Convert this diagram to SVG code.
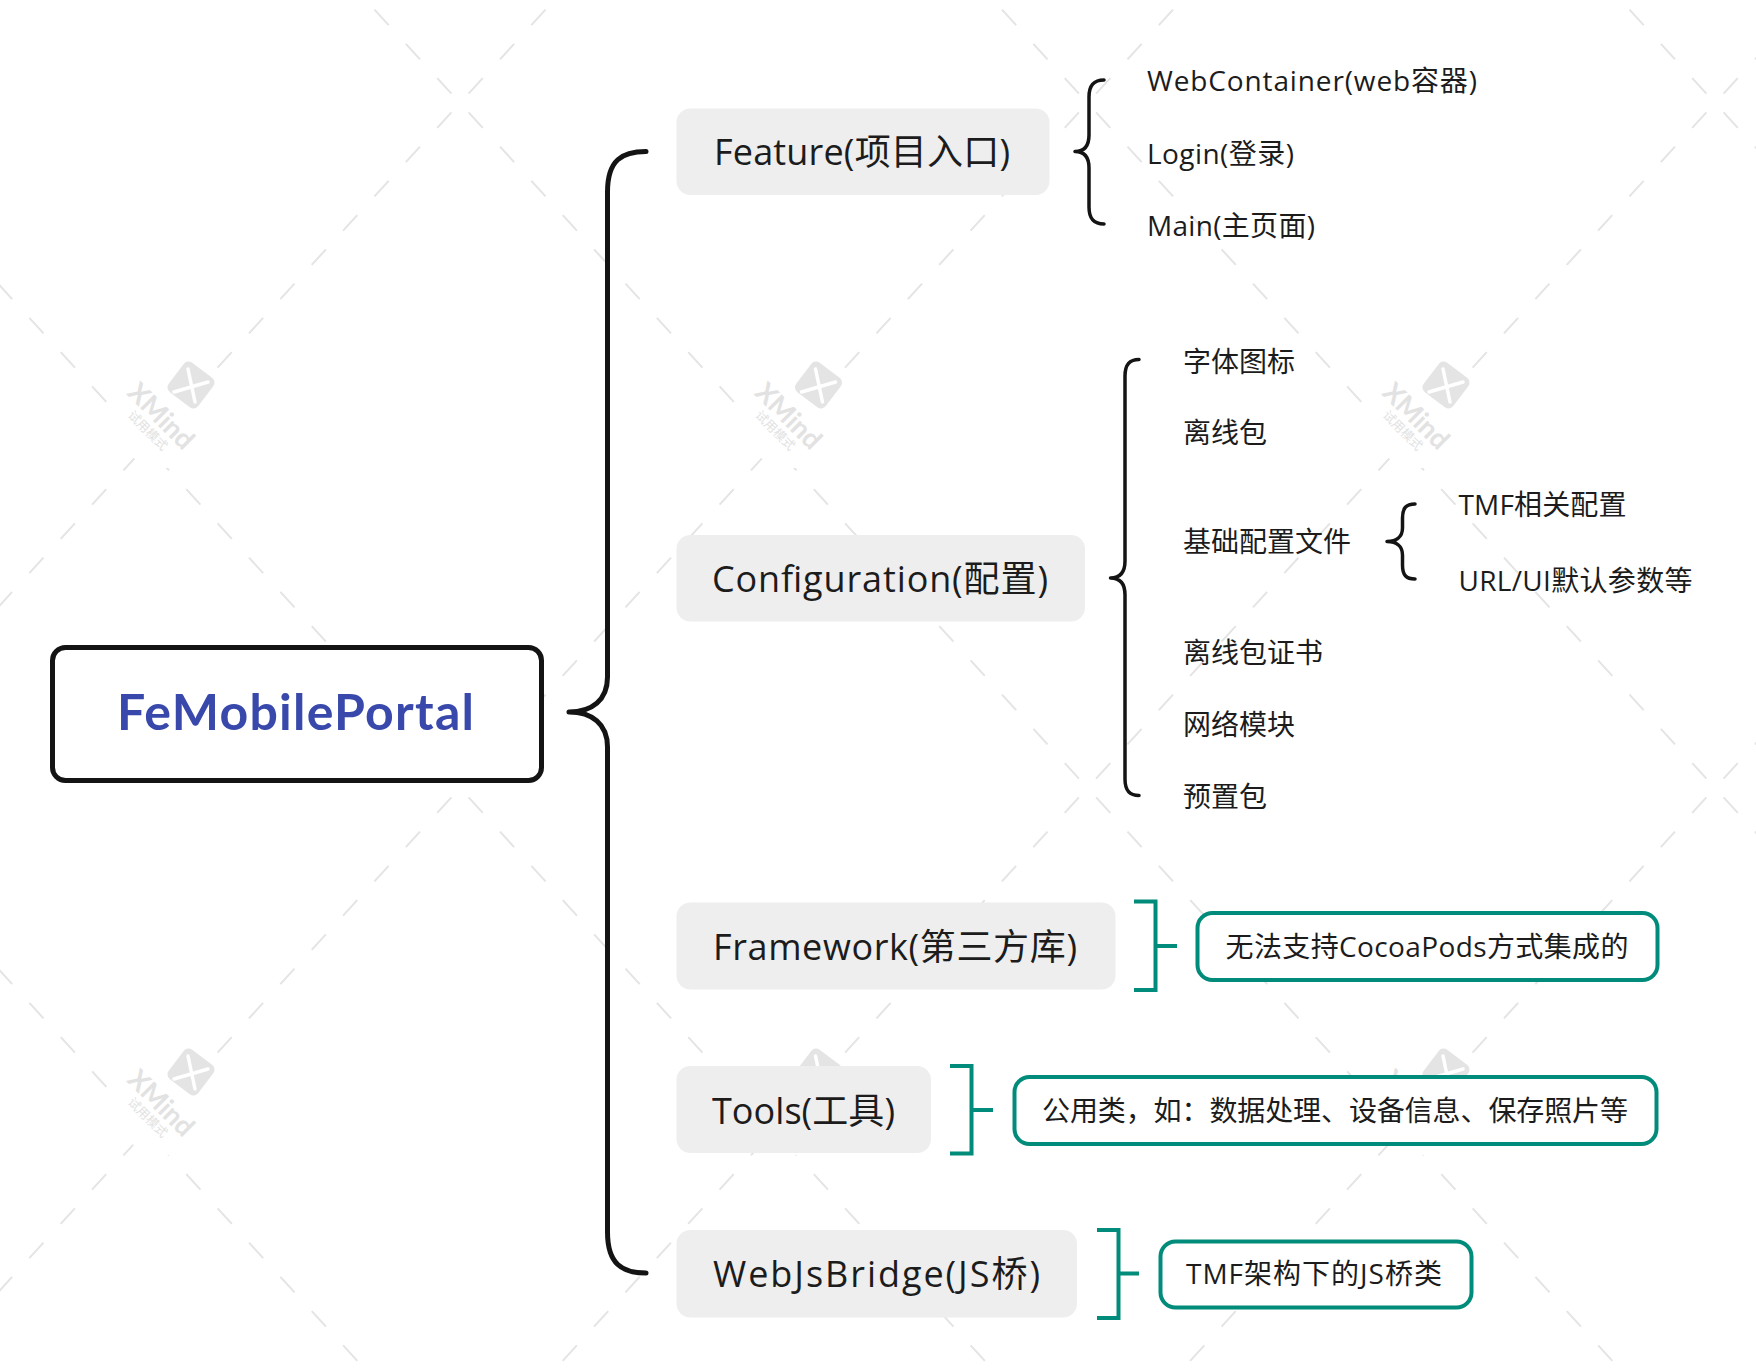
<svg xmlns="http://www.w3.org/2000/svg" width="1756" height="1368" viewBox="0 0 1756 1368">
<defs>
<style>
.wml{stroke:#e4e4e4;stroke-width:2;fill:none;stroke-dasharray:21 25.45;stroke-dashoffset:33.725}
.wmt{font-family:"Lato","Noto Sans CJK SC",sans-serif;fill:#e2e2e2}
.t{font-family:"Open Sans","Noto Sans CJK SC",sans-serif;fill:#1c1c1c}
.b{font-size:36px}
.s{font-size:28px}
.br{fill:#eeeeee}
.co{fill:#ffffff;stroke:#008b7a;stroke-width:4}
.blk{fill:none;stroke:#141414;stroke-linecap:round;stroke-linejoin:round}
.tl{fill:none;stroke:#008b7a;stroke-width:4}
</style>
<g id="wmlogo">
<circle cx="-25" cy="25" r="58" fill="#ffffff"/>
<rect x="-18.5" y="-18.5" width="37" height="37" rx="6" fill="#e4e4e4" transform="rotate(37)"/>
<path d="M-3,-16 L4,17 M-17,7 L17,-3" stroke="#ffffff" stroke-width="3.5" stroke-linecap="round" fill="none"/>
<text class="wmt" font-size="27" font-weight="bold" transform="translate(-65,9) rotate(45)">XMind</text>
<text class="wmt" font-size="12.5" transform="translate(-64,31) rotate(45)">试用模式</text>
</g>
</defs>
<rect width="1756" height="1368" fill="#ffffff"/>
<g id="watermark">
<path class="wml" d="M-1108.75,-239.5 l1568.75,1712.5"/>
<path class="wml" d="M-481.25,-239.5 l1568.75,1712.5"/>
<path class="wml" d="M146.25,-239.5 l1568.75,1712.5"/>
<path class="wml" d="M773.75,-239.5 l1568.75,1712.5"/>
<path class="wml" d="M1401.25,-239.5 l1568.75,1712.5"/>
<path class="wml" d="M773.75,-239.5 l-1568.75,1712.5"/>
<path class="wml" d="M1401.25,-239.5 l-1568.75,1712.5"/>
<path class="wml" d="M2028.75,-239.5 l-1568.75,1712.5"/>
<path class="wml" d="M2656.25,-239.5 l-1568.75,1712.5"/>
<use href="#wmlogo" x="191" y="385"/>
<use href="#wmlogo" x="818.5" y="385"/>
<use href="#wmlogo" x="1446" y="385"/>
<use href="#wmlogo" x="191" y="1072"/>
<use href="#wmlogo" x="818.5" y="1072"/>
<use href="#wmlogo" x="1446" y="1072"/>
</g>
<g id="connectors">
<path class="blk" stroke-width="5" d="M646,151.5 C622,151.5 607.5,160 607.5,192 L607.5,677 C607.5,700 592,712 569,712 C592,712 607.5,724 607.5,747 L607.5,1232 C607.5,1264 622,1273 646,1273"/>
<path class="blk" stroke-width="3.5" d="M1104,80 C1094,80 1089,85 1089,97 L1089,135 C1089,146 1084,151.5 1075,151.5 C1084,151.5 1089,157 1089,168 L1089,207 C1089,219 1094,224 1104,224"/>
<path class="blk" stroke-width="3.5" d="M1139,359.5 C1130,359.5 1125,364 1125,376 L1125,561 C1125,572 1120,578 1110.5,578 C1120,578 1125,584 1125,595 L1125,779 C1125,791 1130,795.5 1139,795.5"/>
<path class="blk" stroke-width="3.5" d="M1415,504 C1406,504 1402.5,508 1402.5,518 L1402.5,528 C1402.5,537 1396,541.5 1387,541.5 C1396,541.5 1402.5,546 1402.5,555 L1402.5,565 C1402.5,575 1406,579 1415,579"/>
<path class="tl" d="M1134,901.5 H1155.5 V990 H1134 M1155.5,946 H1177"/>
<path class="tl" d="M950,1066 H971.5 V1153.5 H950 M971.5,1110 H993"/>
<path class="tl" d="M1097,1230 H1118.5 V1318 H1097 M1118.5,1273.5 H1139"/>
</g>
<g id="node-root">
<rect x="52.5" y="647.5" width="489" height="133" rx="13" fill="#ffffff" stroke="#141414" stroke-width="5"/>
<text x="117" y="729.5" font-family="Lato,'Noto Sans CJK SC',sans-serif" font-size="50" font-weight="bold" fill="#3949ab" textLength="357">FeMobilePortal</text>
</g>
<g id="node-feature">
<rect class="br" x="676.5" y="108.5" width="373" height="86.5" rx="14"/>
<text class="t b" x="714" y="165" textLength="296">Feature(项目入口)</text>
</g>
<g id="node-webcontainer"><text class="t s" x="1147" y="90.5" textLength="330">WebContainer(web容器)</text></g>
<g id="node-login"><text class="t s" x="1147" y="164" textLength="147">Login(登录)</text></g>
<g id="node-main"><text class="t s" x="1147" y="235.5" textLength="168">Main(主页面)</text></g>
<g id="node-configuration">
<rect class="br" x="676.5" y="535" width="408.5" height="86.5" rx="14"/>
<text class="t b" x="712" y="591.5" textLength="336">Configuration(配置)</text>
</g>
<g id="node-fonticon"><text class="t s" x="1183" y="371.5">字体图标</text></g>
<g id="node-offline"><text class="t s" x="1183" y="443">离线包</text></g>
<g id="node-baseconfig"><text class="t s" x="1183" y="552">基础配置文件</text></g>
<g id="node-tmfconfig"><text class="t s" x="1458.5" y="514.5" textLength="168">TMF相关配置</text></g>
<g id="node-urlui"><text class="t s" x="1458.5" y="590.5" textLength="234">URL/UI默认参数等</text></g>
<g id="node-offlinecert"><text class="t s" x="1183" y="663">离线包证书</text></g>
<g id="node-network"><text class="t s" x="1183" y="735">网络模块</text></g>
<g id="node-preset"><text class="t s" x="1183" y="807">预置包</text></g>
<g id="node-framework">
<rect class="br" x="676.5" y="902.5" width="439" height="87" rx="14"/>
<text class="t b" x="713" y="960" textLength="364">Framework(第三方库)</text>
</g>
<g id="node-framework-note">
<rect class="co" x="1197.5" y="913" width="460" height="67" rx="15"/>
<text class="t s" x="1225.5" y="957" textLength="403">无法支持CocoaPods方式集成的</text>
</g>
<g id="node-tools">
<rect class="br" x="676.5" y="1066" width="254.5" height="87" rx="14"/>
<text class="t b" x="712" y="1123.5" textLength="183">Tools(工具)</text>
</g>
<g id="node-tools-note">
<rect class="co" x="1014.5" y="1077" width="642" height="67" rx="15"/>
<text class="t s" x="1042" y="1120.5" textLength="586">公用类，如：数据处理、设备信息、保存照片等</text>
</g>
<g id="node-webjsbridge">
<rect class="br" x="676.5" y="1230" width="400.5" height="87.5" rx="14"/>
<text class="t b" x="713" y="1287" textLength="327">WebJsBridge(JS桥)</text>
</g>
<g id="node-webjsbridge-note">
<rect class="co" x="1160.5" y="1241.5" width="311" height="66" rx="15"/>
<text class="t s" x="1186" y="1283.5" textLength="256">TMF架构下的JS桥类</text>
</g>
</svg>
